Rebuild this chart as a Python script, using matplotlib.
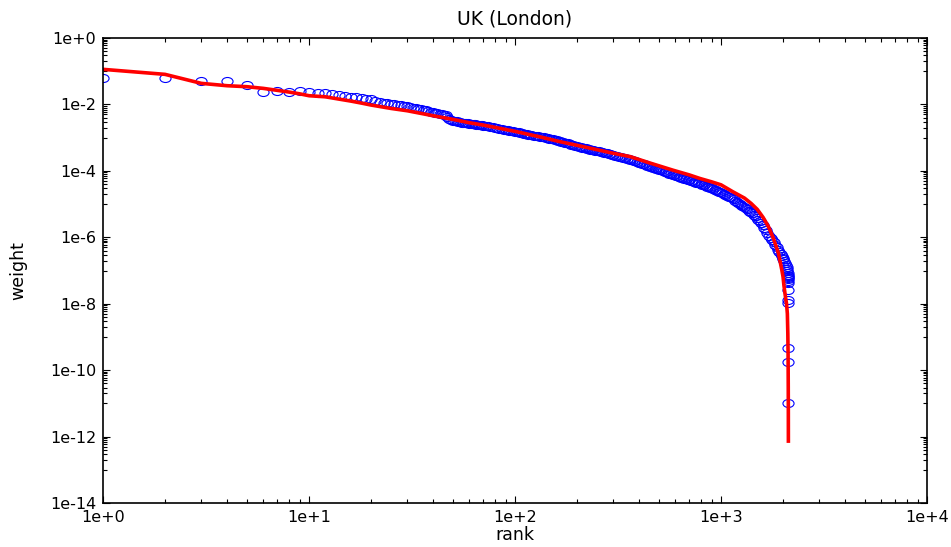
import numpy as np
import matplotlib
matplotlib.use("Agg")
import matplotlib.pyplot as plt
from matplotlib.path import Path
from matplotlib.ticker import FixedLocator, FuncFormatter, NullFormatter

plt.rcParams['font.family'] = ['DejaVu Sans']

obs_rank = [1, 2, 3, 4, 5, 6, 7, 8, 9, 10, 11, 12, 13, 14, 15, 16, 17, 18, 19, 20,
            21, 22, 23, 24, 25, 26, 27, 28, 29, 30, 31, 32, 33, 34, 35, 36, 37, 38, 39, 40,
            41, 42, 43, 44, 45, 46, 47, 48, 49,
            50, 51, 52, 53, 54, 55, 56, 57, 58, 59, 60, 61, 62, 63, 64, 65, 66, 67, 68, 69, 70,
            72, 74, 76, 78, 80, 82, 84, 86, 88, 90, 92, 94, 96, 98, 100, 102, 104, 106,
            108, 110, 112, 114, 116, 118, 120,
            123, 126, 129, 132, 135, 138, 141, 144, 147, 150, 153, 156, 159, 162, 165,
            168, 171, 174, 177, 180,
            184, 188, 192, 196, 200, 204, 208, 212, 216, 220, 224, 228, 232, 236, 240,
            245, 250, 255, 260, 265, 270, 275, 280, 285, 290, 295, 300,
            307, 314, 321, 328, 335, 342, 349, 356, 363, 370, 377, 384, 391, 398,
            406, 414, 422, 430, 438, 446, 454, 462, 470, 478, 486, 494, 502,
            512, 522, 532, 542, 552, 562, 572, 582, 592, 602, 612, 622, 632, 642, 652,
            664, 676, 688, 700, 712, 724, 736, 748, 760, 772, 784, 796,
            811, 826, 841, 856, 871, 886, 901, 916, 931, 946, 961, 976, 991,
            1010, 1030, 1050, 1070, 1090, 1110, 1130, 1150, 1170, 1190, 1210, 1230, 1250,
            1270, 1290,
            1315, 1340, 1365, 1390, 1415, 1440, 1465, 1490, 1515, 1540, 1565, 1590,
            1620, 1650, 1680, 1710, 1740, 1770, 1800, 1830, 1860, 1890,
            1920, 1945, 1970, 1990, 2010, 2030, 2050, 2065, 2080, 2090, 2100, 2105, 2108,
            2110, 2112, 2113, 2114, 2115, 2116, 2117, 2118, 2119, 2120, 2121, 2122]
obs_logw = [-1.196, -1.21, -1.285, -1.295, -1.425, -1.617, -1.597, -1.617, -1.606, -1.617,
            -1.646, -1.656, -1.697, -1.727, -1.747, -1.768, -1.787, -1.808, -1.83, -1.85,
            -1.89, -1.93, -1.95, -1.97, -1.98, -2.00, -2.02, -2.03, -2.05, -2.06,
            -2.08, -2.10, -2.11, -2.13, -2.15, -2.16, -2.18, -2.20, -2.22, -2.24,
            -2.25, -2.27, -2.28, -2.30, -2.31, -2.33, -2.38, -2.43, -2.47,
            -2.50, -2.51, -2.51, -2.52, -2.53, -2.55, -2.55, -2.56, -2.56, -2.57, -2.58,
            -2.58, -2.59, -2.59, -2.60, -2.61, -2.61, -2.62, -2.62, -2.63, -2.64,
            -2.65, -2.66, -2.67, -2.69, -2.71, -2.72, -2.73, -2.74, -2.76, -2.77, -2.78,
            -2.79, -2.80, -2.81, -2.82, -2.83, -2.84, -2.85, -2.86, -2.88, -2.89, -2.90,
            -2.91, -2.92, -2.93,
            -2.94, -2.95, -2.96, -2.97, -2.98, -2.99, -3.00, -3.02, -3.03, -3.04, -3.05,
            -3.06, -3.07, -3.09, -3.10, -3.12, -3.13, -3.15, -3.16, -3.17,
            -3.19, -3.21, -3.23, -3.24, -3.26, -3.27, -3.29, -3.30, -3.31, -3.32, -3.33,
            -3.35, -3.36, -3.37, -3.38,
            -3.39, -3.40, -3.41, -3.43, -3.44, -3.45, -3.46, -3.47, -3.48, -3.50, -3.51, -3.52,
            -3.54, -3.55, -3.57, -3.58, -3.60, -3.61, -3.63, -3.64, -3.66, -3.68, -3.69,
            -3.71, -3.73, -3.75,
            -3.77, -3.78, -3.80, -3.82, -3.84, -3.85, -3.87, -3.88, -3.90, -3.92, -3.93,
            -3.95, -3.96,
            -3.98, -4.00, -4.02, -4.04, -4.06, -4.08, -4.10, -4.11, -4.13, -4.15, -4.16,
            -4.18, -4.19, -4.20, -4.22,
            -4.23, -4.25, -4.26, -4.28, -4.29, -4.31, -4.32, -4.34, -4.35, -4.37, -4.38, -4.40,
            -4.42, -4.44, -4.46, -4.48, -4.49, -4.51, -4.53, -4.55, -4.57, -4.59, -4.61,
            -4.63, -4.65,
            -4.67, -4.70, -4.72, -4.75, -4.78, -4.80, -4.83, -4.86, -4.90, -4.93, -4.96,
            -4.99, -5.02, -5.05, -5.08,
            -5.12, -5.16, -5.20, -5.24, -5.28, -5.32, -5.37, -5.42, -5.47, -5.52, -5.58, -5.64,
            -5.71, -5.79, -5.87, -5.95, -6.02, -6.09, -6.15, -6.22, -6.30, -6.37,
            -6.44, -6.50, -6.56, -6.61, -6.66, -6.72, -6.78, -6.84, -6.90, -6.95, -7.02,
            -7.07, -7.12,
            -7.16, -7.20, -7.23, -7.26, -7.32, -7.38, -7.59, -7.89, -7.98, -9.34, -9.76, -10.99]

### fitted curve (red line)
fit_rank = [1, 2, 3, 4, 5, 6, 7, 8, 9, 10, 12, 14, 16, 18, 20, 25, 30, 35, 40, 50,
            60, 70, 80, 100, 133, 165, 207, 300, 362, 450, 585, 700, 791, 900, 1000,
            1142, 1300, 1400, 1500, 1600, 1700, 1800, 1900, 1974, 2000, 2020, 2050,
            2080, 2099, 2110, 2116, 2120, 2122, 2123]
fit_logw = [-0.943, -1.094, -1.365, -1.436, -1.466, -1.516, -1.575, -1.627, -1.68, -1.737,
            -1.77, -1.84, -1.90, -1.96, -2.018, -2.12, -2.19, -2.27, -2.34, -2.45,
            -2.55, -2.62, -2.69, -2.81, -2.98, -3.12, -3.25, -3.47, -3.57, -3.76,
            -3.98, -4.12, -4.23, -4.33, -4.42, -4.63, -4.82, -4.98, -5.16, -5.40,
            -5.68, -6.05, -6.48, -6.99, -7.19, -7.45, -7.75, -8.0, -8.3, -8.9,
            -9.5, -10.5, -11.3, -12.19]

obs_w = 10.0 ** np.array(obs_logw)
fit_w = 10.0 ** np.array(fit_logw)

### ellipse shaped open marker (wider than tall)
circ = Path.unit_circle()
ellipse = Path(circ.vertices * [1.0, 0.72], circ.codes)

fig = plt.figure(figsize=(9.51, 5.47), dpi=100)
ax = fig.add_axes([0.1083, 0.0804, 0.8665, 0.8501])

ax.plot(obs_rank, obs_w, linestyle='none', marker=ellipse, ms=8,
        mfc='none', mec='#0000ff', mew=0.8)
ax.plot(fit_rank, fit_w, color='#ff0000', lw=2.6, solid_capstyle='butt')

ax.set_xscale('log')
ax.set_yscale('log')
ax.set_xlim(1, 1e4)
ax.set_ylim(1e-14, 1)

### major ticks every 2 decades on y, minor ticks k*10^odd like gnuplot
ax.yaxis.set_major_locator(FixedLocator([10.0 ** e for e in range(-14, 1, 2)]))
ax.yaxis.set_minor_locator(FixedLocator([k * 10.0 ** e for e in range(-13, 0, 2) for k in range(1, 10)]))
ax.xaxis.set_major_locator(FixedLocator([10.0 ** e for e in range(0, 5)]))
ax.xaxis.set_minor_locator(FixedLocator([k * 10.0 ** e for e in range(0, 4) for k in range(2, 10)]))

fmt = FuncFormatter(lambda v, p: "1e%+d" % int(round(np.log10(v))))
ax.xaxis.set_major_formatter(fmt)
ax.yaxis.set_major_formatter(fmt)
ax.xaxis.set_minor_formatter(NullFormatter())
ax.yaxis.set_minor_formatter(NullFormatter())

ax.tick_params(which='both', direction='in', top=True, right=True, width=0.8, labelsize=11.5)
ax.tick_params(which='major', length=5, pad=5)
ax.tick_params(which='minor', length=3)
for s in ax.spines.values():
    s.set_linewidth(1.2)

ax.set_title('UK (London)', fontsize=13.5, pad=10)
ax.set_xlabel('rank', fontsize=12.5, labelpad=1)
ax.set_ylabel('weight', fontsize=12.5, labelpad=16)

fig.savefig('out.png', dpi=100)
